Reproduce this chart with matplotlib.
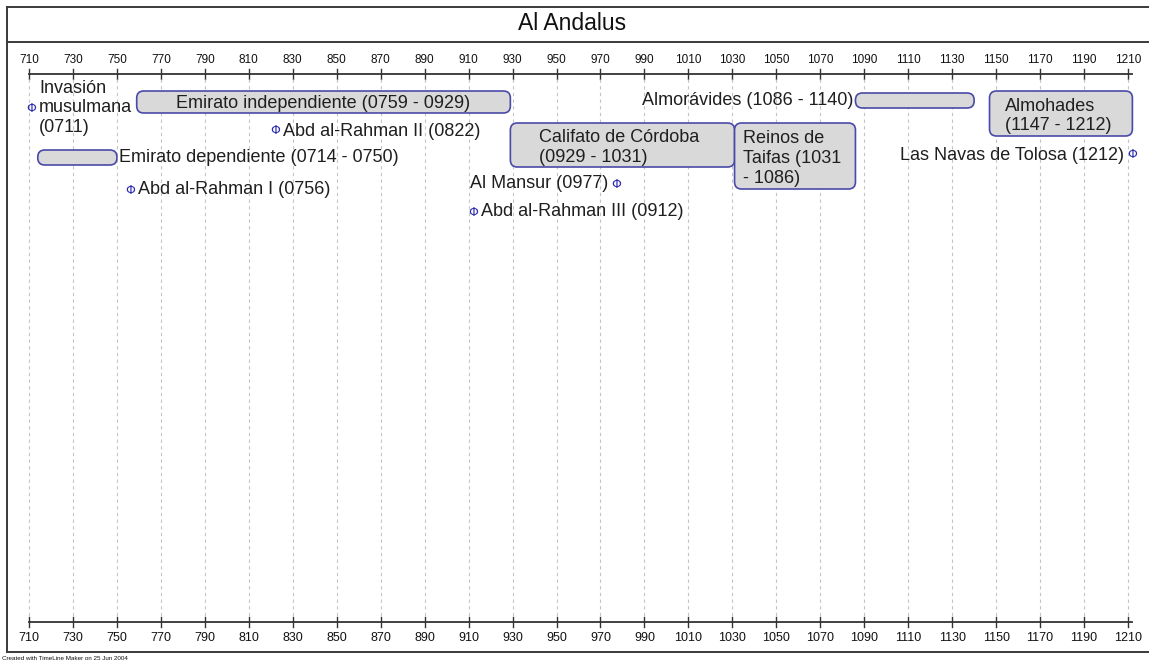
import matplotlib
matplotlib.use("Agg")
import matplotlib.pyplot as plt
from matplotlib.patches import FancyBboxPatch

plt.rcParams['font.family'] = ['Liberation Sans', 'DejaVu Sans']

# ---------------- data ----------------
title = "Al Andalus"
tick_years = list(range(710, 1211, 20))

# periods: label, start, end
period_labels = ["Emirato dependiente (0714 - 0750)",
                 "Emirato independiente (0759 - 0929)",
                 "Califato de Córdoba\n(0929 - 1031)",
                 "Reinos de\nTaifas (1031\n- 1086)",
                 "Almorávides (1086 - 1140)",
                 "Almohades\n(1147 - 1212)"]
period_start = [714, 759, 929, 1031, 1086, 1147]
period_end = [750, 929, 1031, 1086, 1140, 1212]

# events
event_labels = ["Invasión\nmusulmana\n(0711)", "Abd al-Rahman I (0756)",
                "Abd al-Rahman II (0822)", "Abd al-Rahman III (0912)",
                "Al Mansur (0977)", "Las Navas de Tolosa (1212)"]
event_years = [711, 756, 822, 912, 977, 1212]

footer = "Created with TimeLine Maker on 25 Jun 2004"

# ---------------- layout (pixel rows / styling) ----------------
period_top = [150, 91, 123, 123, 93, 91]
period_height = [15, 22, 44, 66, 15, 45]
period_label_side = ["right", "inside", "inside", "inside", "left", "inside"]
event_row = [108, 190, 131, 212, 184, 155]
event_label_side = ["right", "right", "right", "right", "left", "left"]

W, H = 1149, 662
fig = plt.figure(figsize=(W / 100, H / 100), dpi=100)
fig.patch.set_facecolor("white")

# pixel mapping of the time scale: 710 -> px 29, 1210 -> px 1128
PX0, PX1 = 29.0, 1128.0
ppy = (PX1 - PX0) / (1210 - 710)
xmin = 710 - PX0 / ppy
xmax = 710 + (W - PX0) / ppy

frame = fig.add_axes([0, 0, 1, 1])
frame.set_xlim(0, W)
frame.set_ylim(H, 0)
frame.axis("off")

ax = fig.add_axes([0, 0, 1, 1])
ax.set_xlim(xmin, xmax)
ax.set_ylim(H, 0)
ax.axis("off")
ax.patch.set_alpha(0)

border = "#3a3a3a"
frame.plot([7, 7], [7, 652], color=border, lw=1.4)
frame.plot([7, W], [7, 7], color=border, lw=1.4)
frame.plot([7, W], [652, 652], color=border, lw=1.4)
frame.plot([7, W], [42, 42], color=border, lw=1.4)
frame.text(572, 24, title, ha="center", va="center", fontsize=16.5, color="#111")
frame.text(2, 658, footer, ha="left", va="center", fontsize=4.5, color="#111")

# axes lines and ticks
TOP_Y, BOT_Y = 74, 622
axis_col = "#333333"
ax.plot([710, 1212], [TOP_Y, TOP_Y], color=axis_col, lw=1.3)
ax.plot([710, 1212], [BOT_Y, BOT_Y], color=axis_col, lw=1.3)
for yr in tick_years:
    ax.plot([yr, yr], [TOP_Y - 5, TOP_Y + 5], color=axis_col, lw=1.0)
    ax.plot([yr, yr], [BOT_Y - 5, BOT_Y + 5], color=axis_col, lw=1.0)
    ax.plot([yr, yr], [TOP_Y + 5, BOT_Y - 5], color="#c4c4c4", lw=0.8,
            ls=(0, (3, 3)))
    ax.text(yr, 60, str(yr), ha="center", va="center", fontsize=8.5, color="#111")
    ax.text(yr, 638, str(yr), ha="center", va="center", fontsize=9, color="#111")

# periods
fill = "#d9d9d9"
edge = "#4a4aa8"
txt_col = "#1f1f1f"
fs = 13
ls_multi = 1.2
for lab, s, e, top, h, side in zip(period_labels, period_start, period_end,
                                    period_top, period_height, period_label_side):
    r_px = min(h / 2.0, 7.0)
    box = FancyBboxPatch((s, top), e - s, h,
                         boxstyle=f"round,pad=0,rounding_size={r_px / ppy}",
                         mutation_aspect=ppy,
                         facecolor=fill, edgecolor=edge, lw=1.2, zorder=3)
    ax.add_patch(box)
    if side == "inside":
        multi = "\n" in lab
        ax.text((s + e) / 2.0 - (3 / ppy if multi else 0),
                top + h / 2.0 + (2.5 if multi else 1), lab,
                ha="center", va="center", multialignment="left", fontsize=fs,
                color=txt_col, zorder=4, linespacing=ls_multi)
    elif side == "right":
        ax.text(e + 2 / ppy, top + h / 2.0, lab, ha="left", va="center",
                fontsize=fs, color=txt_col, zorder=4)
    else:
        ax.text(s - 2 / ppy, top + h / 2.0, lab, ha="right", va="center",
                fontsize=fs, color=txt_col, zorder=4)

# events
marker_col = "#2a2ab0"
for lab, yr, row, side in zip(event_labels, event_years, event_row, event_label_side):
    ax.text(yr, row, "Φ", ha="center", va="center", fontsize=9,
            color=marker_col, zorder=4, family="DejaVu Sans")
    if side == "right":
        ax.text(yr + 8 / ppy, row, lab, ha="left", va="center", fontsize=fs,
                color=txt_col, zorder=4, linespacing=ls_multi)
    else:
        ax.text(yr - 8 / ppy, row, lab, ha="right", va="center", fontsize=fs,
                color=txt_col, zorder=4, linespacing=ls_multi)

fig.savefig("out.png", dpi=100, facecolor="white")
